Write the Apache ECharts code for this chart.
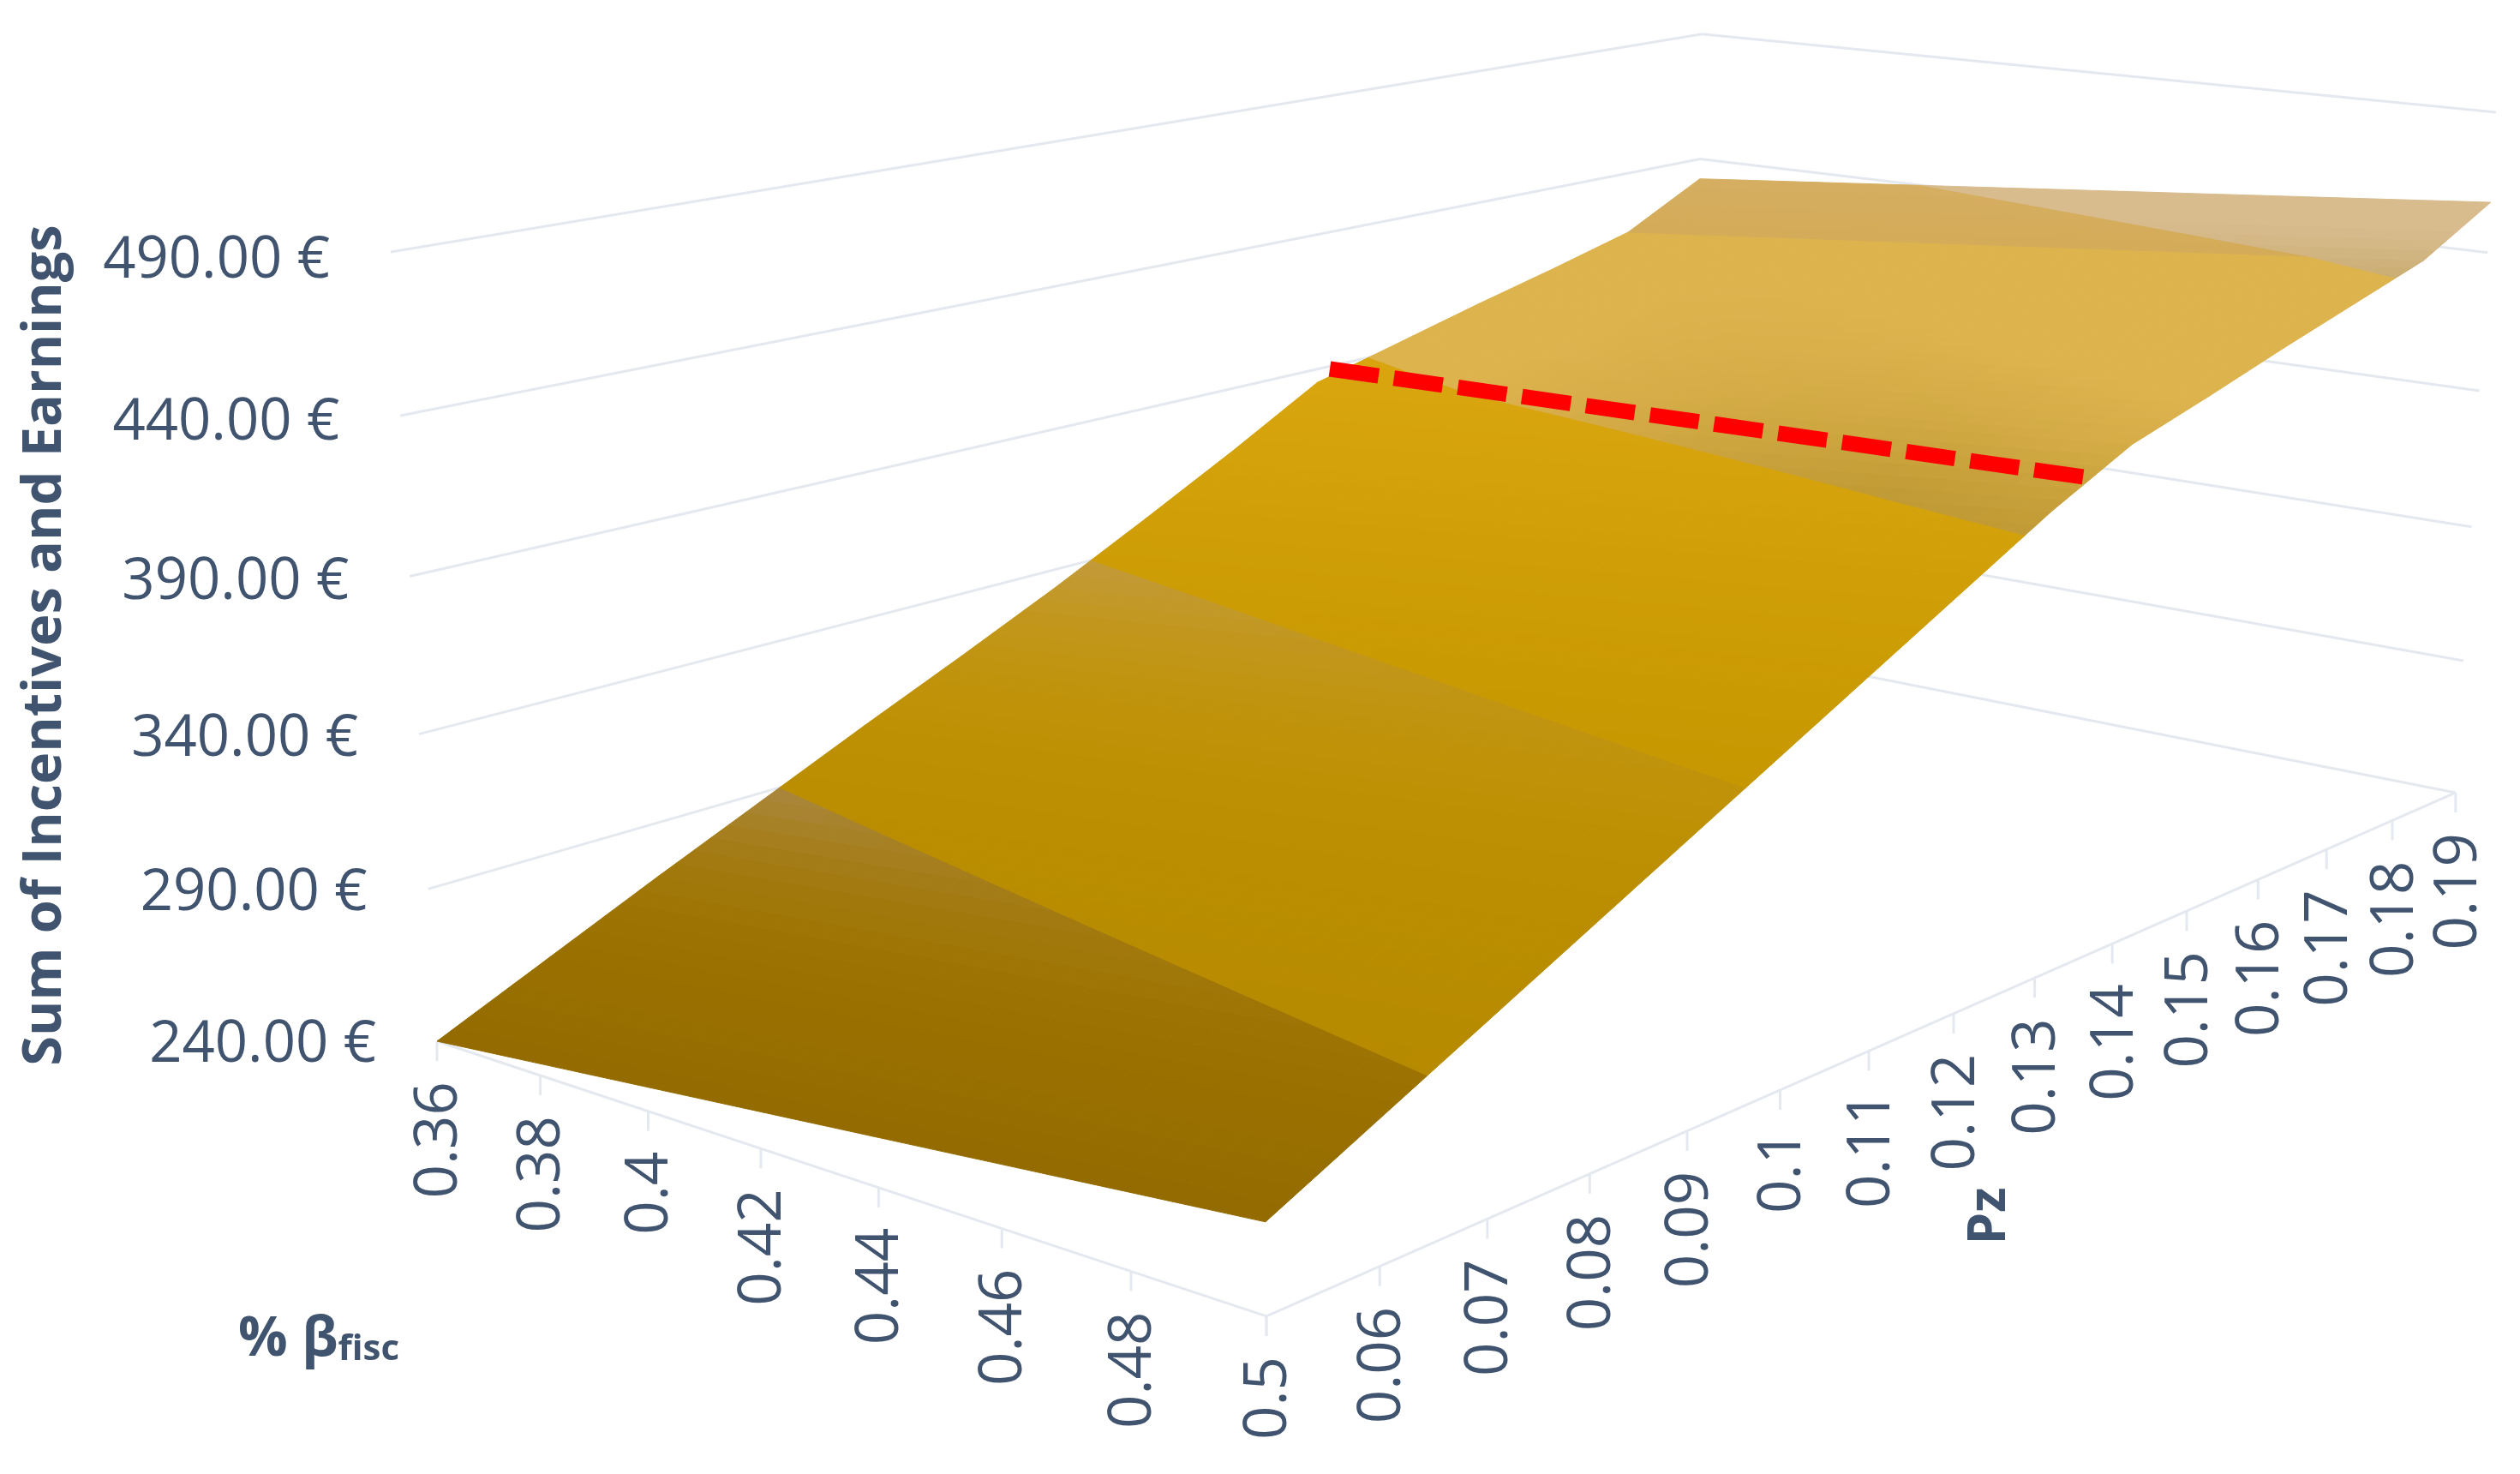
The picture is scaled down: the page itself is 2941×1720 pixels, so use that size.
<!DOCTYPE html>
<html><head><meta charset="utf-8">
<style>html,body{margin:0;padding:0;background:#fff}#c{width:2941px;height:1720px}</style>
<script src="https://cdn.jsdelivr.net/npm/echarts@6/dist/echarts.min.js"></script>
</head><body><div id="c"></div>
<script>
// ---- data ----
var betaTicks = [0.36,0.38,0.40,0.42,0.44,0.46,0.48,0.50];
var betaLabels = ['0.36','0.38','0.4','0.42','0.44','0.46','0.48','0.5'];
var pzValues = [0.05,0.06,0.07,0.08,0.09,0.10,0.11,0.12,0.13,0.14,0.15,0.16,0.17,0.18,0.19];
var pzLabels = ['','0.06','0.07','0.08','0.09','0.1','0.11','0.12','0.13','0.14','0.15','0.16','0.17','0.18','0.19'];
var zTicks = [240,290,340,390,440,490];
var zLabels = ['240.00 €','290.00 €','340.00 €','390.00 €','440.00 €','490.00 €'];
var earningsAtBetaLow  = [240,256,272,287.5,303,318,333.5,350,367,385,393,401,408.5,416.5,432];
var earningsAtBetaHigh = [267,283,299,315,331,347,363,379,395,409,417.5,426.5,435,443.5,458];
var refLineBeta = [0.36,0.50];
var refLinePz = [0.1415,0.134];
var refLineZ = [389,403];

// ---- camera: homogeneous projection of the plot box on the page ----
var CAM = {
  x:[752.2,2088,-74.2,510],
  y:[96.7,-230.4,-934,1215],
  d:[-0.146,0.315,-0.0444,1]
};
function norm(b,p,z){return [(b-0.36)/0.14,(p-0.05)/0.14,(z-240)/250];}
function proj(b,p,z){
  var n=norm(b,p,z),u=n[0],v=n[1],w=n[2];
  var d=CAM.d[0]*u+CAM.d[1]*v+CAM.d[2]*w+CAM.d[3];
  return [(CAM.x[0]*u+CAM.x[1]*v+CAM.x[2]*w+CAM.x[3])/d,
          (CAM.y[0]*u+CAM.y[1]*v+CAM.y[2]*w+CAM.y[3])/d];
}
var BMIN=betaTicks[0],BMAX=betaTicks[betaTicks.length-1];
var PMIN=pzValues[0],PMAX=pzValues[pzValues.length-1];
var ZMIN=zTicks[0],ZMAX=zTicks[zTicks.length-1];

var GRID='#E4E9F0', TXT='#40536F', FONT='"Open Sans"';

function hex(c){return [parseInt(c.substr(1,2),16),parseInt(c.substr(3,2),16),parseInt(c.substr(5,2),16)];}
function mix(a,b,t){t=Math.max(0,Math.min(1,t));var A=hex(a),B=hex(b);
  return 'rgb('+[0,1,2].map(function(i){return Math.round(A[i]+(B[i]-A[i])*t);}).join(',')+')';}
function mix3(a,b,g,t,tg){t=Math.max(0,Math.min(1,t));
  var A=hex(a),B=hex(b),G=hex(g);
  return 'rgb('+[0,1,2].map(function(i){var c=A[i]+(B[i]-A[i])*t;return Math.round(c+(G[i]-c)*tg);}).join(',')+')';}

// surface shade: contour bands at the z ticks, with a slow ramp inside each band
function shade(u,v,z){
  if(z<290){var t=Math.max(0,v/0.2258);return mix3('#936B00','#A67A00','#AA8742',t,Math.pow(t,4));}
  if(z<340){var t2=Math.max(0,(v-0.1)/0.36);return mix3('#B68A00','#C49500','#C29A3E',t2,Math.pow(t2,4));}
  if(z<390){return mix('#C69700','#D8A50E',(v-0.32)/0.32);}
  if(z>=440){return mix('#CBAE73','#D8BC8E',(v-0.905)/0.06);}
  if(v>=0.9286){return mix('#D4AB58','#D6AE62',(v-0.93)/0.07);}
  var g=Math.max(0,1-(z-390)/26)*Math.max(0,Math.min(1,(u-0.2)/0.6));
  return mix('#DDB34E','#C09A34',g);
}
function clip(poly,level,keepAbove){
  var out=[];
  for(var i=0;i<poly.length;i++){
    var a=poly[i],b=poly[(i+1)%poly.length];
    var ina=keepAbove?a[2]>=level:a[2]<=level, inb=keepAbove?b[2]>=level:b[2]<=level;
    if(ina)out.push(a);
    if(ina!==inb){var t=(level-a[2])/(b[2]-a[2]);
      out.push([a[0]+(b[0]-a[0])*t,a[1]+(b[1]-a[1])*t,level]);}
  }
  return out;
}
var LEVELS=[ZMIN-100,290,340,390,440,ZMAX+100];

function renderSurface(params,api){
  var k=api.value(0),kids=[];
  var p0=pzValues[k],p1=pzValues[k+1];
  var NR=6,NC=30;
  function vert(i,j){
    var tv=i/NR,tu=j/NC;
    var zl=earningsAtBetaLow[k]+(earningsAtBetaLow[k+1]-earningsAtBetaLow[k])*tv;
    var zh=earningsAtBetaHigh[k]+(earningsAtBetaHigh[k+1]-earningsAtBetaHigh[k])*tv;
    return [tu,p0+(p1-p0)*tv,zl+(zh-zl)*tu];
  }
  for(var i=0;i<NR;i++)for(var j=0;j<NC;j++){
    var q=[vert(i,j),vert(i,j+1),vert(i+1,j+1),vert(i+1,j)];
    for(var l=0;l<LEVELS.length-1;l++){
      var c=clip(clip(q,LEVELS[l],true),LEVELS[l+1],false);
      if(c.length<3)continue;
      var su=0,sp=0,sz=0;
      c.forEach(function(a){su+=a[0];sp+=a[1];sz+=a[2];});
      su/=c.length;sp/=c.length;sz/=c.length;
      var col=shade(su,(sp-PMIN)/(PMAX-PMIN),sz);
      kids.push({type:'polygon',silent:true,
        shape:{points:c.map(function(a){return api.coord(proj(BMIN+(BMAX-BMIN)*a[0],a[1],a[2]));})},
        style:{fill:col,stroke:col,lineWidth:1}});
    }
  }
  return {type:'group',children:kids};
}
function seg(api,a,b,w,col,dash){
  var A=api.coord(a),B=api.coord(b);
  return {type:'line',silent:true,shape:{x1:A[0],y1:A[1],x2:B[0],y2:B[1]},
    style:{stroke:col,lineWidth:w,lineDash:dash||null}};
}
function renderFrame(params,api){
  var kids=[];
  zTicks.forEach(function(z){
    kids.push(seg(api,proj(BMIN,PMIN,z),proj(BMIN,PMAX,z),3,GRID));
    kids.push(seg(api,proj(BMIN,PMAX,z),proj(BMAX,PMAX,z),3,GRID));
  });
  kids.push(seg(api,proj(BMIN,PMIN,ZMIN),proj(BMAX,PMIN,ZMIN),3,GRID));
  kids.push(seg(api,proj(BMAX,PMIN,ZMIN),proj(BMAX,PMAX,ZMIN),3,GRID));
  betaTicks.forEach(function(b){
    var P=proj(b,PMIN,ZMIN);
    kids.push(seg(api,P,[P[0],P[1]+23],3,GRID));
  });
  pzValues.forEach(function(p){
    var P=proj(BMAX,p,ZMIN);
    kids.push(seg(api,P,[P[0],P[1]+23],3,GRID));
  });
  return {type:'group',children:kids};
}
function txt(api,pt,text,o){
  var C=api.coord(pt);
  return {type:'text',silent:true,x:C[0],y:C[1],rotation:o.rot||0,
    style:Object.assign({text:text,fontFamily:FONT,fontSize:o.size,fontWeight:o.weight||'normal',fill:TXT,
      align:o.align||'center',verticalAlign:'middle'},o.extra||{})};
}
function renderLabels(params,api){
  var kids=[];
  zTicks.forEach(function(z,i){
    var P=proj(BMIN,PMIN,z),w=i/5;
    kids.push(txt(api,[P[0]-71,P[1]+5+6*w*w],zLabels[i],{size:67,align:'right'}));
  });
  betaTicks.forEach(function(b,i){
    var P=proj(b,PMIN,ZMIN);
    kids.push(txt(api,[P[0]+3,P[1]+47],betaLabels[i],{size:69,align:'right',rot:Math.PI/2}));
  });
  pzValues.forEach(function(p,i){
    if(!pzLabels[i])return;
    var P=proj(BMAX,p,ZMIN);
    kids.push(txt(api,[P[0]+4,P[1]+47],pzLabels[i],{size:69,align:'right',rot:Math.PI/2}));
  });
  kids.push(txt(api,[53,753],'Sum of Incentives and Earnings',{size:63,weight:'bold',rot:Math.PI/2}));
  kids.push(txt(api,[2323,1419],'Pz',{size:60,weight:'bold',rot:Math.PI/2}));
  kids.push(txt(api,[372,1564],'{a|% β}{b|fisc}',{size:60,weight:'bold',extra:{rich:{
    a:{fontFamily:FONT,fontSize:64,fontWeight:'bold',fill:TXT},
    b:{fontFamily:FONT,fontSize:42,fontWeight:'bold',fill:TXT,verticalAlign:'bottom',padding:[14,0,0,0]}}}}));
  return {type:'group',children:kids};
}
function renderRef(params,api){
  return {type:'group',children:[seg(api,proj(refLineBeta[0],refLinePz[0],refLineZ[0]),
    proj(refLineBeta[1],refLinePz[1],refLineZ[1]),18,'#FF0000',[57.5,18])]};
}
var chart=echarts.init(document.getElementById('c'),null,{renderer:'canvas'});
var rows=pzValues.slice(0,-1).map(function(p,i){return [i];});
chart.setOption({
  animation:false,backgroundColor:'#ffffff',
  grid:{left:0,right:0,top:0,bottom:0},
  xAxis:{type:'value',min:0,max:2941,show:false},
  yAxis:{type:'value',min:0,max:1720,inverse:true,show:false},
  series:[
    {type:'custom',coordinateSystem:'cartesian2d',clip:false,silent:true,data:[[0]],renderItem:renderFrame},
    {type:'custom',coordinateSystem:'cartesian2d',clip:false,silent:true,data:rows,renderItem:renderSurface,encode:{x:0}},
    {type:'custom',coordinateSystem:'cartesian2d',clip:false,silent:true,data:[[0]],renderItem:renderRef},
    {type:'custom',coordinateSystem:'cartesian2d',clip:false,silent:true,data:[[0]],renderItem:renderLabels}
  ]
});
</script></body></html>
